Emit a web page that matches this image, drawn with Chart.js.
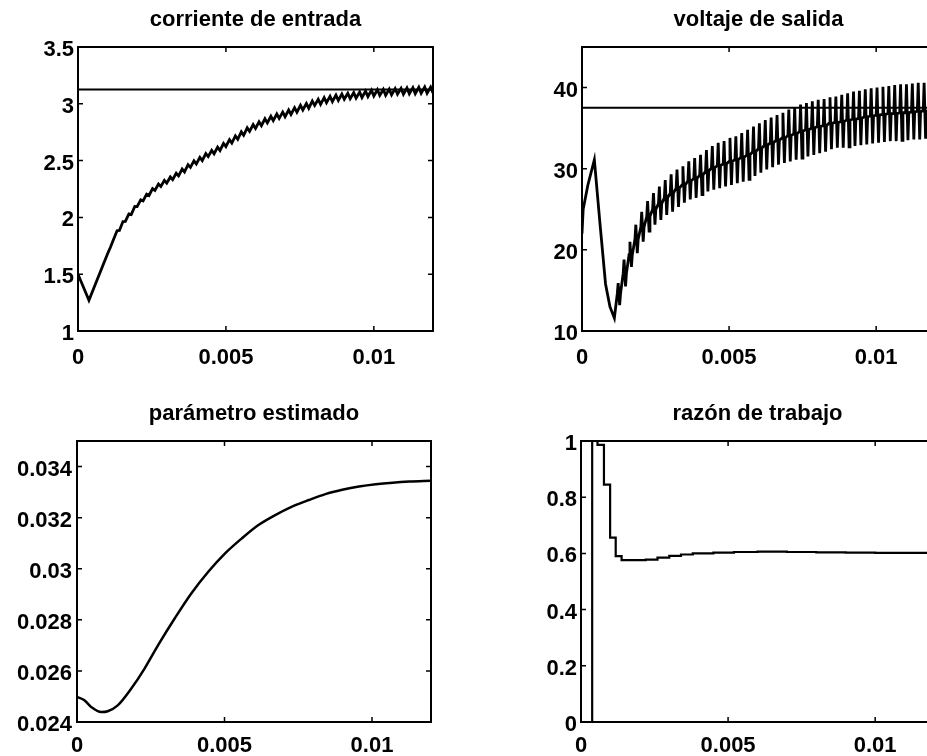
<!DOCTYPE html>
<html>
<head>
<meta charset="utf-8">
<script src="https://cdn.jsdelivr.net/npm/chart.js@4.4.1/dist/chart.umd.min.js"></script>
<style>
  html, body { margin: 0; padding: 0; background: #fff; overflow: hidden; width: 927px; height: 756px; }
  canvas { position: absolute; }
</style>
</head>
<body>
<canvas id="cur" width="463" height="378" style="left:0;top:0"></canvas>
<canvas id="volt" width="500" height="378" style="left:463px;top:0"></canvas>
<canvas id="param" width="463" height="378" style="left:0;top:378px"></canvas>
<canvas id="duty" width="500" height="378" style="left:463px;top:378px"></canvas>
<script>
// ---- data ----
const xTicks = [0, 0.005, 0.01];
const xTickLabels = ['0', '0.005', '0.01'];

// switching period starts (s)
const tSw = [0.0012, 0.0014, 0.0016, 0.0018, 0.0020, 0.0022, 0.0024, 0.0026, 0.0028, 0.0030,
  0.0032, 0.0034, 0.0036, 0.0038, 0.0040, 0.0042, 0.0044, 0.0046, 0.0048, 0.0050,
  0.0052, 0.0054, 0.0056, 0.0058, 0.0060, 0.0062, 0.0064, 0.0066, 0.0068, 0.0070,
  0.0072, 0.0074, 0.0076, 0.0078, 0.0080, 0.0082, 0.0084, 0.0086, 0.0088, 0.0090,
  0.0092, 0.0094, 0.0096, 0.0098, 0.0100, 0.0102, 0.0104, 0.0106, 0.0108, 0.0110,
  0.0112, 0.0114, 0.0116, 0.0118];

// corriente de entrada
const curTicks = [1, 1.5, 2, 2.5, 3, 3.5];
const curTickLabels = ['1', '1.5', '2', '2.5', '3', '3.5'];
const curRef = 3.125;
const tCurStart = [0, 0.00037, 0.0006, 0.0008, 0.001, 0.0011];
const iCurStart = [1.50, 1.27, 1.42, 1.55, 1.68, 1.74];
const iLow = [1.805, 1.885, 1.965, 2.025, 2.095, 2.145, 2.193, 2.238, 2.272, 2.302,
  2.332, 2.366, 2.400, 2.440, 2.470, 2.500, 2.535, 2.560, 2.589, 2.624,
  2.654, 2.688, 2.723, 2.758, 2.783, 2.807, 2.832, 2.852, 2.872, 2.887,
  2.906, 2.926, 2.946, 2.961, 2.986, 2.995, 3.010, 3.020, 3.030, 3.040,
  3.045, 3.050, 3.055, 3.064, 3.069, 3.074, 3.074, 3.079, 3.084, 3.084,
  3.088, 3.088, 3.093, 3.093];
const iHigh = [1.883, 1.963, 2.031, 2.097, 2.155, 2.205, 2.254, 2.293, 2.326, 2.356,
  2.389, 2.425, 2.464, 2.498, 2.528, 2.561, 2.590, 2.618, 2.652, 2.684,
  2.717, 2.753, 2.788, 2.817, 2.842, 2.868, 2.890, 2.910, 2.927, 2.945,
  2.966, 2.986, 3.003, 3.024, 3.040, 3.054, 3.066, 3.076, 3.086, 3.093,
  3.098, 3.103, 3.111, 3.119, 3.124, 3.126, 3.129, 3.134, 3.136, 3.139,
  3.142, 3.145, 3.147, 3.147];
const iCurEnd = 3.095;

// voltaje de salida
const voltTicks = [10, 20, 30, 40];
const voltTickLabels = ['10', '20', '30', '40'];
const voltRef = 37.5;
const tVoltStart = [0, 0.00004, 0.0002, 0.00042, 0.0006, 0.0008, 0.00095, 0.0011];
const vVoltStart = [22.0, 25.0, 28.0, 31.1, 23.7, 15.8, 13.0, 11.6];
const vHigh = [15.9, 18.8, 21.0, 23.1, 24.7, 26.0, 27.0, 27.8, 28.6, 29.3,
  29.9, 30.3, 30.9, 31.3, 31.7, 32.3, 32.8, 33.2, 33.4, 33.8,
  34.0, 34.4, 34.8, 35.2, 35.6, 36.0, 36.3, 36.6, 36.9, 37.3,
  37.6, 37.9, 38.1, 38.3, 38.5, 38.6, 38.8, 38.9, 39.1, 39.3,
  39.5, 39.6, 39.8, 39.9, 40.0, 40.1, 40.2, 40.3, 40.4, 40.4,
  40.5, 40.6, 40.6, 40.7];
const vLow = [13.2, 15.5, 17.9, 19.6, 21.0, 22.3, 23.1, 23.7, 24.3, 24.7,
  25.3, 25.8, 26.2, 26.4, 26.8, 27.2, 27.4, 27.6, 27.8, 28.0,
  28.2, 28.4, 28.7, 29.1, 29.5, 29.9, 30.2, 30.5, 30.7, 30.9,
  31.1, 31.3, 31.5, 31.7, 31.9, 32.1, 32.4, 32.6, 32.6, 32.7,
  32.8, 32.9, 33.0, 33.1, 33.2, 33.3, 33.4, 33.4, 33.5, 33.5,
  33.6, 33.6, 33.7, 33.7];
const vMid = [14.6, 17.1, 19.4, 21.3, 22.8, 24.1, 25.0, 25.7, 26.4, 27.0,
  27.6, 28.0, 28.5, 28.8, 29.2, 29.7, 30.1, 30.4, 30.6, 30.9,
  31.1, 31.4, 31.7, 32.1, 32.5, 32.9, 33.2, 33.5, 33.8, 34.1,
  34.3, 34.6, 34.8, 35.0, 35.2, 35.3, 35.6, 35.7, 35.8, 36.0,
  36.1, 36.2, 36.4, 36.5, 36.6, 36.7, 36.8, 36.8, 36.9, 36.9,
  37.0, 37.1, 37.1, 37.2];
const vVoltEnd = 37.2;

// parámetro estimado
const paramTicks = [0.024, 0.026, 0.028, 0.03, 0.032, 0.034];
const paramTickLabels = ['0.024', '0.026', '0.028', '0.03', '0.032', '0.034'];
const tParam = [0, 0.00025, 0.00048, 0.00082, 0.00104, 0.00138, 0.00184, 0.00229, 0.00275, 0.00331,
  0.00388, 0.00445, 0.00502, 0.00559, 0.00615, 0.00672, 0.00729, 0.00786, 0.00842, 0.00899,
  0.00956, 0.01013, 0.0107, 0.01126, 0.012];
const pParam = [0.02498, 0.02485, 0.02459, 0.02439, 0.02442, 0.02465, 0.02531, 0.02609, 0.02701, 0.02805,
  0.02904, 0.02988, 0.0306, 0.03119, 0.03171, 0.0321, 0.03243, 0.03269, 0.03292, 0.03309,
  0.03322, 0.03331, 0.03337, 0.03341, 0.03344];

// razón de trabajo
const dutyTicks = [0, 0.2, 0.4, 0.6, 0.8, 1];
const dutyTickLabels = ['0', '0.2', '0.4', '0.6', '0.8', '1'];
const tDuty = [0, 0.00038, 0.00056, 0.00078, 0.00099, 0.00118, 0.00138, 0.0022, 0.0026, 0.003,
  0.0034, 0.0038, 0.0045, 0.0052, 0.006, 0.007, 0.008, 0.009, 0.01, 0.011, 0.012];
const dDuty = [0, 1, 0.986, 0.845, 0.656, 0.59, 0.576, 0.578, 0.585, 0.591,
  0.596, 0.600, 0.603, 0.605, 0.606, 0.605, 0.604, 0.603, 0.602, 0.602, 0.602];

// ---- build point lists ----
const curPts = tCurStart.map((t, i) => ({ x: t, y: iCurStart[i] }));
tSw.forEach((t, k) => {
  curPts.push({ x: t, y: iLow[k] }, { x: t + 0.00012, y: iHigh[k] });
});
curPts.push({ x: 0.012, y: iCurEnd });

// one ripple per period: mid -> peak -> trough -> mid, then flat to next period
const voltPts = tVoltStart.map((t, i) => ({ x: t, y: vVoltStart[i] }));
tSw.forEach((t, k) => {
  voltPts.push(
    { x: t, y: vMid[k] },
    { x: t + 0.00003, y: vHigh[k] },
    { x: t + 0.00008, y: vLow[k] },
    { x: t + 0.00011, y: vMid[k] }
  );
});
voltPts.push({ x: 0.012, y: vVoltEnd });

const paramPts = tParam.map((t, i) => ({ x: t, y: pParam[i] }));
const dutyPts = tDuty.map((t, i) => ({ x: t, y: dDuty[i] }));

// ---- chart helpers ----
const FONT = '"Liberation Sans", Arial, Helvetica, sans-serif';

// box round the plot + inward ticks on all four sides, matlab style
const frame = {
  id: 'frame',
  afterDatasetsDraw(chart) {
    const { ctx, chartArea: a, scales: { x, y } } = chart;
    const len = 5;
    ctx.save();
    ctx.strokeStyle = '#000';
    ctx.lineWidth = 2;
    ctx.strokeRect(a.left, a.top, a.right - a.left, a.bottom - a.top);
    ctx.lineWidth = 1.5;
    ctx.beginPath();
    x.ticks.forEach((t) => {
      const p = x.getPixelForValue(t.value);
      ctx.moveTo(p, a.bottom); ctx.lineTo(p, a.bottom - len);
      ctx.moveTo(p, a.top); ctx.lineTo(p, a.top + len);
    });
    y.ticks.forEach((t) => {
      const p = y.getPixelForValue(t.value);
      ctx.moveTo(a.left, p); ctx.lineTo(a.left + len, p);
      ctx.moveTo(a.right, p); ctx.lineTo(a.right - len, p);
    });
    ctx.stroke();
    ctx.restore();
  }
};

function line(data, width, extra) {
  return Object.assign({
    data, borderColor: '#000', borderWidth: width, pointRadius: 0, tension: 0, fill: false
  }, extra || {});
}

function panel(id, c) {
  return new Chart(document.getElementById(id), {
    type: 'line',
    data: { datasets: c.datasets },
    options: {
      responsive: false,
      animation: false,
      events: [],
      layout: { padding: { left: 0, top: c.padTop, right: c.padRight, bottom: c.padBottom } },
      plugins: {
        legend: { display: false },
        tooltip: { enabled: false },
        title: {
          display: true,
          text: c.title,
          fullSize: false,
          color: '#000',
          font: { family: FONT, size: 22, weight: 'bold' },
          padding: { top: 0, bottom: 13.6 }
        }
      },
      scales: {
        x: {
          type: 'linear', min: 0, max: 0.012,
          grid: { display: false, drawTicks: false }, border: { display: false },
          afterBuildTicks: (s) => { s.ticks = xTicks.map((v) => ({ value: v })); },
          afterFit: (s) => { s.height = c.xHeight; },
          ticks: {
            autoSkip: false, maxRotation: 0, padding: c.xPad, color: '#000',
            font: { family: FONT, size: 22, weight: 'bold' },
            callback: (v, i) => xTickLabels[i]
          }
        },
        y: {
          type: 'linear', min: c.yMin, max: c.yMax,
          grid: { display: false, drawTicks: false }, border: { display: false },
          afterBuildTicks: (s) => { s.ticks = c.yTicks.map((v) => ({ value: v })); },
          afterFit: (s) => { s.width = c.yWidth; },
          ticks: {
            autoSkip: false, padding: c.yPad, labelOffset: 3, color: '#000',
            font: { family: FONT, size: 22, weight: 'bold' },
            callback: (v, i) => c.yLabels[i]
          }
        }
      }
    },
    plugins: [frame]
  });
}

panel('cur', {
  title: 'corriente de entrada',
  yMin: 1, yMax: 3.5, yTicks: curTicks, yLabels: curTickLabels,
  yWidth: 78, yPad: 4, xHeight: 40, xPad: 14,
  padTop: 7, padRight: 30, padBottom: 7,
  datasets: [
    line([{ x: 0, y: curRef }, { x: 0.012, y: curRef }], 2),
    line(curPts, 2.8)
  ]
});

panel('volt', {
  title: 'voltaje de salida',
  yMin: 10, yMax: 45, yTicks: voltTicks, yLabels: voltTickLabels,
  yWidth: 119, yPad: 4, xHeight: 40, xPad: 14,
  padTop: 7, padRight: 28, padBottom: 7,
  datasets: [
    line([{ x: 0, y: voltRef }, { x: 0.012, y: voltRef }], 2),
    line(voltPts, 2.8)
  ]
});

panel('param', {
  title: 'parámetro estimado',
  yMin: 0.024, yMax: 0.035, yTicks: paramTicks, yLabels: paramTickLabels,
  yWidth: 77, yPad: 5, xHeight: 30, xPad: 11,
  padTop: 23, padRight: 32, padBottom: 4,
  datasets: [
    line(paramPts, 2.5, { cubicInterpolationMode: 'monotone' })
  ]
});

panel('duty', {
  title: 'razón de trabajo',
  yMin: 0, yMax: 1, yTicks: dutyTicks, yLabels: dutyTickLabels,
  yWidth: 118, yPad: 4, xHeight: 30, xPad: 11,
  padTop: 23, padRight: 29, padBottom: 4,
  datasets: [
    line(dutyPts, 2.2, { stepped: 'before' })
  ]
});
</script>
</body>
</html>
